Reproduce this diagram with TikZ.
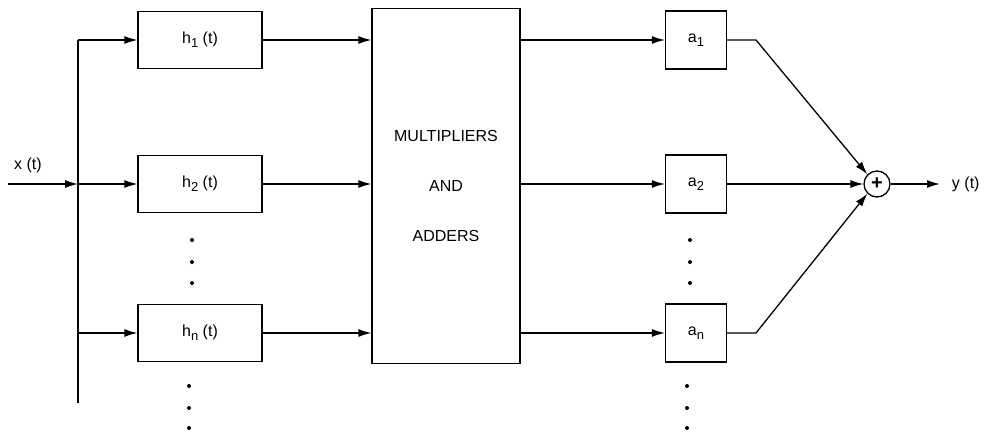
\documentclass[tikz,border=0pt]{standalone}
\usepackage{fontspec}
\setmainfont{Liberation Sans}
\usetikzlibrary{arrows.meta}
\newcommand{\subl}[1]{\raisebox{-4pt}{\fontsize{13}{13}\selectfont #1}}
\begin{document}
\begin{tikzpicture}[x=1pt,y=-1pt,
  line width=1.3pt,
  arr/.style={-{Latex[length=13pt,width=8pt]}},
  blk/.style={draw,minimum width=124pt,minimum height=57pt,inner sep=0pt,font=\fontsize{16}{18}\selectfont},
  ablk/.style={draw,minimum width=61pt,minimum height=58pt,inner sep=0pt,font=\fontsize{16}{18}\selectfont},
  dotn/.style={circle,fill,inner sep=0pt,minimum size=4pt},
  lbl/.style={font=\fontsize{16}{18}\selectfont}]
\useasboundingbox (0,0) rectangle (996,434);
% bus
\coordinate (bt) at (78,40);
\coordinate (bb) at (78,403);
\coordinate (bx) at (78,184);
\coordinate (bn) at (78,333);
\coordinate (xin) at (8,184);
\draw (bt) -- (bb);
\draw[arr] (xin) -- (bx);
\node[lbl] (xl) at (28,165) {x (t)};
% h blocks
\node[blk] (h1) at (200,40) {h\subl{1} (t)};
\node[blk] (h2) at (200,184) {h\subl{2} (t)};
\node[blk] (hn) at (200,333) {h\subl{n} (t)};
\draw[arr] (bt) -- (h1.west);
\draw[arr] (bx) -- (h2.west);
\draw[arr] (bn) -- (hn.west);
% multipliers box
\node[draw,minimum width=148pt,minimum height=355pt,inner sep=0pt,align=center,lbl] (M) at (446,186)
  {MULTIPLIERS\\[32pt]AND\\[32pt]ADDERS};
\draw[arr] (h1.east) -- (M.west |- h1.east);
\draw[arr] (h2.east) -- (M.west |- h2.east);
\draw[arr] (hn.east) -- (M.west |- hn.east);
% a blocks
\node[ablk] (a1) at (696,40) {a\subl{1}};
\node[ablk] (a2) at (696,184) {a\subl{2}};
\node[ablk] (an) at (696,333) {a\subl{n}};
\draw[arr] (M.east |- a1.west) -- (a1.west);
\draw[arr] (M.east |- a2.west) -- (a2.west);
\draw[arr] (M.east |- an.west) -- (an.west);
% summer
\node[draw,circle,minimum size=26pt,inner sep=0pt,font=\fontsize{20}{20}\selectfont\bfseries] (S) at (877,184) {+};
\coordinate (k1) at (756,40);
\coordinate (kn) at (756,333);
\draw[arr] (a1.east) -- (k1) -- (S.north west);
\draw[arr] (a2.east) -- (S.west);
\draw[arr] (an.east) -- (kn) -- (S.south west);
\coordinate (yout) at (940,184);
\draw[arr] (S.east) -- (yout);
\node[lbl,anchor=west] (yl) at (948,184) {y (t)};
% dots
\foreach \y [count=\i] in {240,262,283} {
  \node[dotn] (hd\i) at (192,\y) {};
  \node[dotn] (ad\i) at (690,\y) {};
}
\foreach \y [count=\i] in {386,408,428} {
  \node[dotn] (hb\i) at (189,\y) {};
  \node[dotn] (ab\i) at (687,\y) {};
}
\end{tikzpicture}
\end{document}
